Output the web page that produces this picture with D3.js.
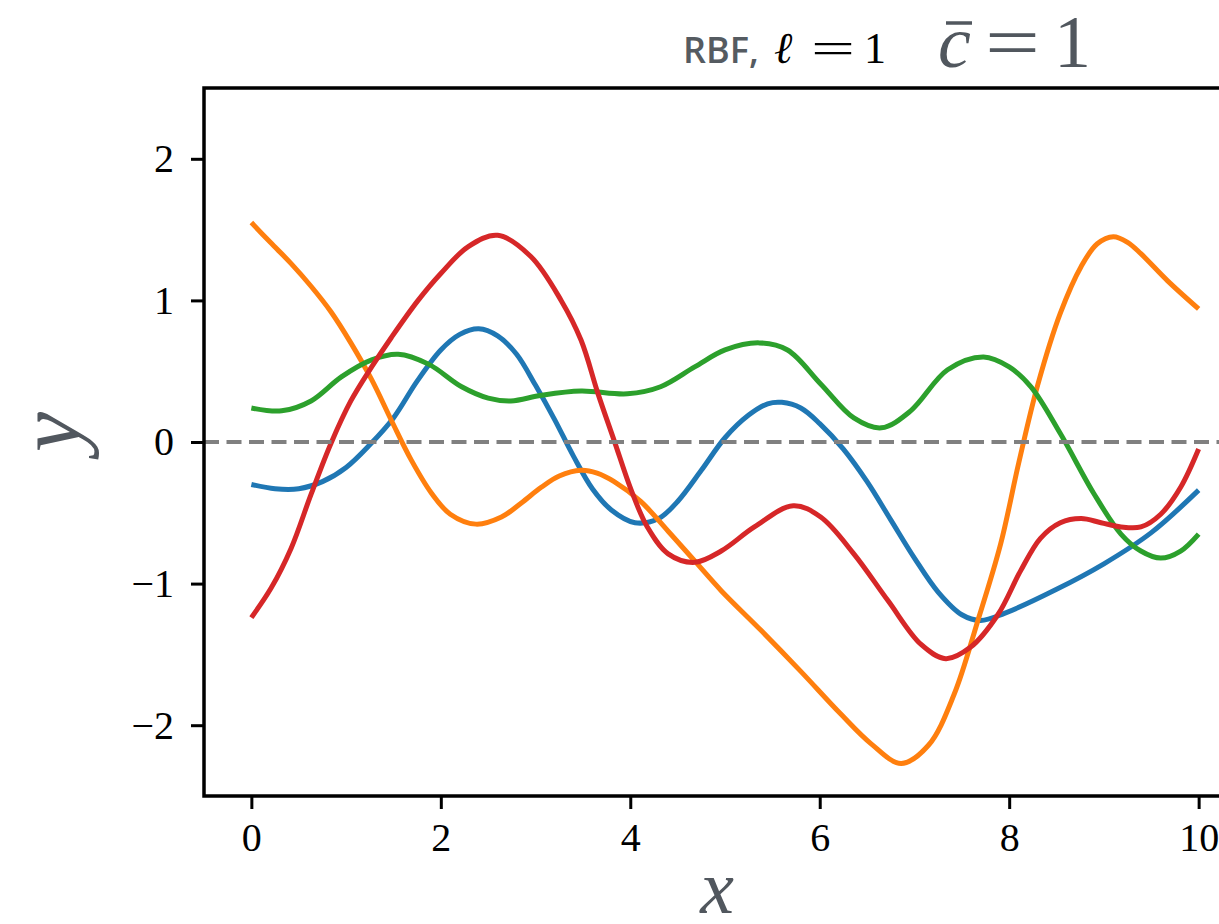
<!DOCTYPE html>
<html>
<head>
<meta charset="utf-8">
<script src="https://cdn.jsdelivr.net/npm/d3@7"></script>
<style>
  body { margin: 0; background: #fff; }
  .tick text { font-family: "Liberation Serif", serif; font-size: 40px; fill: #000; }
  .axis path, .axis line { stroke: #000; }
</style>
</head>
<body>
<div id="chart"></div>
<script>
// samples, [x, y]
var blue = [[0,-0.30],[0.25,-0.33],[0.5,-0.33],[0.75,-0.28],[1.0,-0.18],[1.25,-0.02],[1.5,0.17],[1.75,0.43],[2.0,0.65],[2.2,0.76],[2.4,0.80],[2.6,0.75],[2.8,0.62],[3.0,0.40],[3.2,0.16],[3.4,-0.10],[3.6,-0.33],[3.8,-0.48],[4.05,-0.57],[4.3,-0.54],[4.5,-0.42],[4.75,-0.20],[5.0,0.03],[5.25,0.19],[5.45,0.27],[5.6,0.28],[5.8,0.24],[6.0,0.13],[6.25,-0.05],[6.5,-0.28],[6.75,-0.55],[7.0,-0.82],[7.25,-1.06],[7.5,-1.22],[7.7,-1.26],[7.95,-1.21],[8.5,-1.04],[9.0,-0.86],[9.5,-0.64],[10,-0.34]];
var orange = [[0,1.55],[0.2,1.41],[0.42,1.26],[0.63,1.10],[0.84,0.92],[1.05,0.70],[1.27,0.44],[1.48,0.15],[1.69,-0.13],[1.9,-0.36],[2.1,-0.51],[2.37,-0.58],[2.64,-0.53],[2.85,-0.43],[3.06,-0.32],[3.25,-0.24],[3.48,-0.20],[3.65,-0.22],[3.83,-0.28],[4.11,-0.42],[4.4,-0.63],[4.68,-0.84],[4.96,-1.05],[5.38,-1.33],[5.8,-1.62],[6.22,-1.92],[6.54,-2.13],[6.86,-2.27],[7.15,-2.14],[7.42,-1.78],[7.67,-1.26],[7.91,-0.72],[8.1,-0.15],[8.3,0.40],[8.54,0.91],[8.76,1.24],[8.93,1.40],[9.1,1.45],[9.25,1.41],[9.39,1.33],[9.67,1.14],[10,0.94]];
var green = [[0,0.24],[0.32,0.22],[0.63,0.29],[0.95,0.46],[1.27,0.58],[1.55,0.62],[1.87,0.55],[2.22,0.39],[2.5,0.31],[2.74,0.29],[3.06,0.33],[3.48,0.36],[3.97,0.34],[4.32,0.39],[4.68,0.53],[5.0,0.65],[5.36,0.70],[5.66,0.65],[6.01,0.41],[6.36,0.17],[6.65,0.10],[6.96,0.22],[7.35,0.51],[7.73,0.60],[8.0,0.53],[8.23,0.39],[8.54,0.06],[8.89,-0.36],[9.18,-0.65],[9.39,-0.77],[9.6,-0.82],[9.81,-0.77],[10,-0.65]];
var red = [[0,-1.24],[0.21,-1.03],[0.42,-0.75],[0.63,-0.37],[0.84,-0.01],[1.05,0.29],[1.27,0.53],[1.48,0.74],[1.76,1.00],[2.0,1.19],[2.29,1.38],[2.6,1.46],[2.95,1.31],[3.27,1.00],[3.48,0.72],[3.66,0.34],[3.83,0.01],[4.01,-0.34],[4.18,-0.60],[4.4,-0.79],[4.68,-0.85],[4.96,-0.77],[5.31,-0.60],[5.72,-0.45],[6.01,-0.53],[6.36,-0.79],[6.72,-1.12],[7.07,-1.43],[7.33,-1.53],[7.59,-1.45],[7.88,-1.22],[8.12,-0.91],[8.33,-0.68],[8.54,-0.57],[8.76,-0.54],[8.97,-0.57],[9.18,-0.60],[9.39,-0.60],[9.6,-0.51],[9.81,-0.32],[10,-0.05]];

var seriesList = [blue, orange, green, red];
var colors = ["#1f77b4", "#ff7f0e", "#2ca02c", "#d62728"];
var xTicks = [0, 2, 4, 6, 8, 10];
var yTicks = [-2, -1, 0, 1, 2];

var width = 1219, height = 924;
var margin = {top: 88, left: 204, bottom: 128, right: -27};

var svg = d3.select("#chart").append("svg")
    .attr("width", width)
    .attr("height", height);

var chartWidth = width - margin.left - margin.right;
var chartHeight = height - margin.top - margin.bottom;

var g = svg.append("g")
    .attr("transform", `translate(${margin.left}, ${margin.top})`);

var xScale = d3.scaleLinear().domain([-0.5, 10.5]).range([0, chartWidth]);
var yScale = d3.scaleLinear().domain([-2.5, 2.5]).range([chartHeight, 0]);

var fmt = d => d < 0 ? "\u2212" + Math.abs(d) : String(d);

var xAxis = d3.axisBottom(xScale).tickValues(xTicks).tickFormat(fmt).tickSize(13).tickPadding(14);
var yAxis = d3.axisLeft(yScale).tickValues(yTicks).tickFormat(fmt).tickSize(13).tickPadding(17);

g.append("g")
    .attr("class", "x axis")
    .attr("transform", `translate(0,${chartHeight})`)
    .call(xAxis)
    .call(s => s.select(".domain").remove())
    .selectAll("line").attr("stroke-width", 3);

g.append("g")
    .attr("class", "y axis")
    .call(yAxis)
    .call(s => s.select(".domain").remove())
    .selectAll("line").attr("stroke-width", 3);

var line = d3.line()
    .x(d => xScale(d[0]))
    .y(d => yScale(d[1]))
    .curve(d3.curveCatmullRom.alpha(0.5));

g.selectAll(".curve")
    .data(seriesList)
    .enter()
    .append("path")
    .attr("class", "curve")
    .attr("d", line)
    .attr("fill", "none")
    .attr("stroke", (d, i) => colors[i])
    .attr("stroke-width", 5)
    .attr("stroke-linejoin", "round")
    .attr("stroke-linecap", "butt");

g.append("line")
    .attr("x1", 0)
    .attr("x2", chartWidth)
    .attr("y1", yScale(0))
    .attr("y2", yScale(0))
    .attr("stroke", "#808080")
    .attr("stroke-width", 4)
    .attr("stroke-dasharray", "15,7.5");

// frame
g.append("rect")
    .attr("x", 0)
    .attr("y", 0)
    .attr("width", chartWidth)
    .attr("height", chartHeight)
    .attr("fill", "none")
    .attr("stroke", "#000")
    .attr("stroke-width", 3.5);

// axis labels
svg.append("text")
    .attr("x", 717)
    .attr("y", 913)
    .attr("text-anchor", "middle")
    .style("font-family", "Liberation Serif")
    .style("font-style", "italic")
    .style("font-size", "76px")
    .attr("fill", "#51575e")
    .text("x");

svg.append("text")
    .attr("transform", "translate(80,432) rotate(-90)")
    .attr("text-anchor", "middle")
    .style("font-family", "Liberation Serif")
    .style("font-style", "italic")
    .style("font-size", "90px")
    .attr("fill", "#51575e")
    .text("y");

// title
svg.append("text")
    .attr("x", 683)
    .attr("y", 63)
    .style("font-family", "Open Sans")
    .style("font-weight", 600)
    .style("font-size", "36px")
    .attr("fill", "#555b61")
    .text("RBF,");

svg.append("text")
    .attr("x", 774)
    .attr("y", 63)
    .style("font-family", "DejaVu Serif")
    .style("font-style", "italic")
    .style("font-size", "44px")
    .attr("fill", "#000")
    .text("\u2113");

svg.append("text")
    .attr("x", 811)
    .attr("y", 63)
    .attr("textLength", 44)
    .attr("lengthAdjust", "spacingAndGlyphs")
    .style("font-family", "Liberation Serif")
    .style("font-size", "44px")
    .attr("fill", "#000")
    .text("=");

svg.append("text")
    .attr("x", 864)
    .attr("y", 63)
    .style("font-family", "Liberation Serif")
    .style("font-size", "44px")
    .attr("fill", "#000")
    .text("1");

svg.append("text")
    .attr("x", 938)
    .attr("y", 67)
    .style("font-family", "Liberation Serif")
    .style("font-style", "italic")
    .style("font-size", "74px")
    .attr("fill", "#51575e")
    .text("c");

svg.append("line")
    .attr("x1", 946).attr("x2", 972)
    .attr("y1", 23).attr("y2", 23)
    .attr("stroke", "#51575e")
    .attr("stroke-width", 3.5);

svg.append("text")
    .attr("x", 985)
    .attr("y", 67)
    .attr("textLength", 55)
    .attr("lengthAdjust", "spacingAndGlyphs")
    .style("font-family", "Liberation Serif")
    .style("font-size", "74px")
    .attr("fill", "#51575e")
    .text("=");

svg.append("text")
    .attr("x", 1054)
    .attr("y", 67)
    .style("font-family", "Liberation Serif")
    .style("font-size", "74px")
    .attr("fill", "#51575e")
    .text("1");
</script>
</body>
</html>
